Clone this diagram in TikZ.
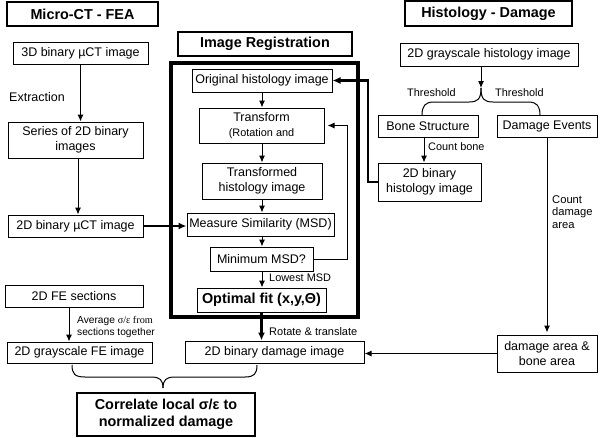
\documentclass[tikz,border=0pt]{standalone}
\usepackage{fontspec}
\setmainfont{Liberation Sans}
\newfontfamily\serifgr{Liberation Serif}
\usetikzlibrary{arrows.meta}
\newcommand{\txtn}{\fontsize{12.5}{14.5}\selectfont}
\newcommand{\txts}{\fontsize{10.9}{12.5}\selectfont}
\newcommand{\txtb}{\fontsize{14.4}{16.5}\selectfont\bfseries}
\begin{document}
\begin{tikzpicture}[x=1pt,y=-1pt,
  sz/.style 2 args={minimum width=#1pt, minimum height=#2pt},
  box/.style={draw, line width=1pt, align=center, inner sep=0pt, font=\txtn},
  titlebox/.style={draw, line width=2pt, align=center, inner sep=0pt, font=\txtb},
  arr/.style={line width=1pt, -{Latex[length=7pt,width=6pt]}},
  tarr/.style={line width=2.5pt, -{Latex[length=8pt,width=7pt]}},
  lbl/.style={font=\txts, inner sep=0pt, anchor=west, align=left},
  brc/.style={line width=1pt}]
\useasboundingbox (0,0) rectangle (600,437);

% titles
\node[titlebox, sz={151}{24}] (mct) at (82.5,14) {Micro-CT - FEA};
\node[titlebox, sz={167}{25}] (hd) at (488.5,13.5) {Histology - Damage};
\node[titlebox, sz={174}{24}] (ir) at (265,44) {Image Registration};

% registration frame
\node[draw, line width=4pt, sz={187}{254}] (reg) at (264.5,190) {};

% left column
\node[box, sz={135}{22}] (ct3d) at (80.5,53) {3D binary µCT image};
\node[box, sz={135}{36}] (series) at (75.5,140) {Series of 2D binary\\images};
\node[box, sz={135}{22}] (ct2d) at (75.5,226) {2D binary µCT image};
\node[box, sz={138}{22}] (fesec) at (74,296) {2D FE sections};
\node[box, sz={145}{21}] (fegray) at (79.5,352.5) {2D grayscale FE image};
\node[draw, line width=2.5pt, align=center, inner sep=0pt, font=\txtb, sz={178}{43}] (corr) at (166,414.5) {Correlate local σ/ε to\\normalized damage};

% registration column
\node[box, sz={140}{23}] (orig) at (262,80.5) {Original histology image};
\node[box, sz={125}{35}] (trans) at (261.5,125.5) {Transform\\{\txts(Rotation and}};
\node[box, sz={120}{36}] (transd) at (262,181) {Transformed\\histology image};
\node[box, sz={147}{23}] (meas) at (260.5,224.5) {Measure Similarity (MSD)};
\node[box, sz={103}{24}] (minm) at (261.5,259) {Minimum MSD?};
\node[draw, line width=1pt, align=center, inner sep=0pt, font=\txtb, sz={129}{24}] (opt) at (261.5,300) {Optimal fit (x,y,Θ)};
\node[box, sz={179}{22}] (dam2d) at (274.5,352) {2D binary damage image};

% right column
\node[box, sz={178}{23}] (hgray) at (489,54.5) {2D grayscale histology image};
\node[box, sz={100}{22}] (bone) at (428,126) {Bone Structure};
\node[box, sz={100}{22}] (events) at (547,126) {Damage Events};
\node[box, sz={103}{38}] (binh) at (429.5,182) {2D binary\\histology image};
\node[box, sz={100}{37}] (area) at (547,353.5) {damage area \&\\bone area};

% helper coordinates
\coordinate (x78) at (78,0);
\coordinate (x69) at (69,0);
\coordinate (xr) at (262,0);
\coordinate (fbx) at (347,0);
\coordinate (tx) at (368,0);
\coordinate (bx) at (424,0);
\coordinate (btip) at (481,88);
\coordinate (bl) at (422,115);
\coordinate (br) at (540,115);
\coordinate (fl) at (72,365);
\coordinate (fr) at (257,365);
\coordinate (ftip) at (163,388);

% left arrows
\draw[arr] (ct3d.south) -- (ct3d.south |- series.north);
\draw[arr] (series.south -| x78) -- (ct2d.north -| x78);
\draw[arr] (fesec.south -| x69) -- (fegray.north -| x69);
\draw[tarr] (ct2d.east) -- (ct2d.east -| meas.west);

% registration arrows
\draw[arr] (orig.south -| xr) -- (trans.north -| xr);
\draw[arr] (trans.south -| xr) -- (transd.north -| xr);
\draw[arr] (transd.south -| xr) -- (meas.north -| xr);
\draw[arr] (meas.south -| xr) -- (minm.north -| xr);
\draw[arr] (minm.south -| xr) -- (opt.north -| xr);
\draw[line width=1pt, -{Latex[length=7pt,width=6pt]}, shorten >=3pt]
  (minm.east) -- (minm.east -| fbx) -- (trans.east -| fbx) -- (trans.east);
\draw[tarr] (opt.south) -- (opt.south |- dam2d.north);
\draw[line width=2.5pt, -{Latex[length=8pt,width=7pt]}]
  (binh.west) -- (binh.west -| tx) -- (orig.east -| tx) -- (orig.east);

% right arrows
\draw[arr] (hgray.south -| btip) -- (btip);
\draw[brc] (btip) .. controls (481,99) and (478,102) .. (469,102) -- (434,102)
  .. controls (425,102) and (422,106) .. (bl);
\draw[brc] (btip) .. controls (481,99) and (484,102) .. (493,102) -- (528,102)
  .. controls (537,102) and (540,106) .. (br);
\draw[arr] (bone.south -| bx) -- (binh.north -| bx);
\draw[arr, shorten >=2pt] (events.south) -- (area.north);
\draw[arr] (area.west) -- (area.west -| dam2d.east);

% bottom brace
\draw[brc] (fl) .. controls (72,374) and (75,377) .. (85,377) -- (151,377)
  .. controls (160,377) and (163,380) .. (ftip);
\draw[brc] (ftip) .. controls (163,380) and (166,377) .. (175,377) -- (245,377)
  .. controls (254,377) and (257,374) .. (fr);

% labels
\node[anchor=west, inner sep=0pt, font=\txtn] (lext) at (9,97) {Extraction};
\node[lbl] (lthl) at (407,93) {Threshold};
\node[lbl] (lthr) at (495,93) {Threshold};
\node[lbl] (lcb) at (428,147) {Count bone};
\node[lbl, font=\fontsize{11.2}{12.5}\selectfont] (lcd) at (552,212) {Count\\damage\\area};
\node[lbl] (llow) at (269,278) {Lowest MSD};
\node[lbl, font=\fontsize{11}{12.5}\selectfont] (lrot) at (269,332) {Rotate \& translate};
\node[lbl, font=\fontsize{10.2}{12}\selectfont] (lavg) at (77,327) {Average {\serifgr σ/ε from}\\sections together};
\end{tikzpicture}
\end{document}
